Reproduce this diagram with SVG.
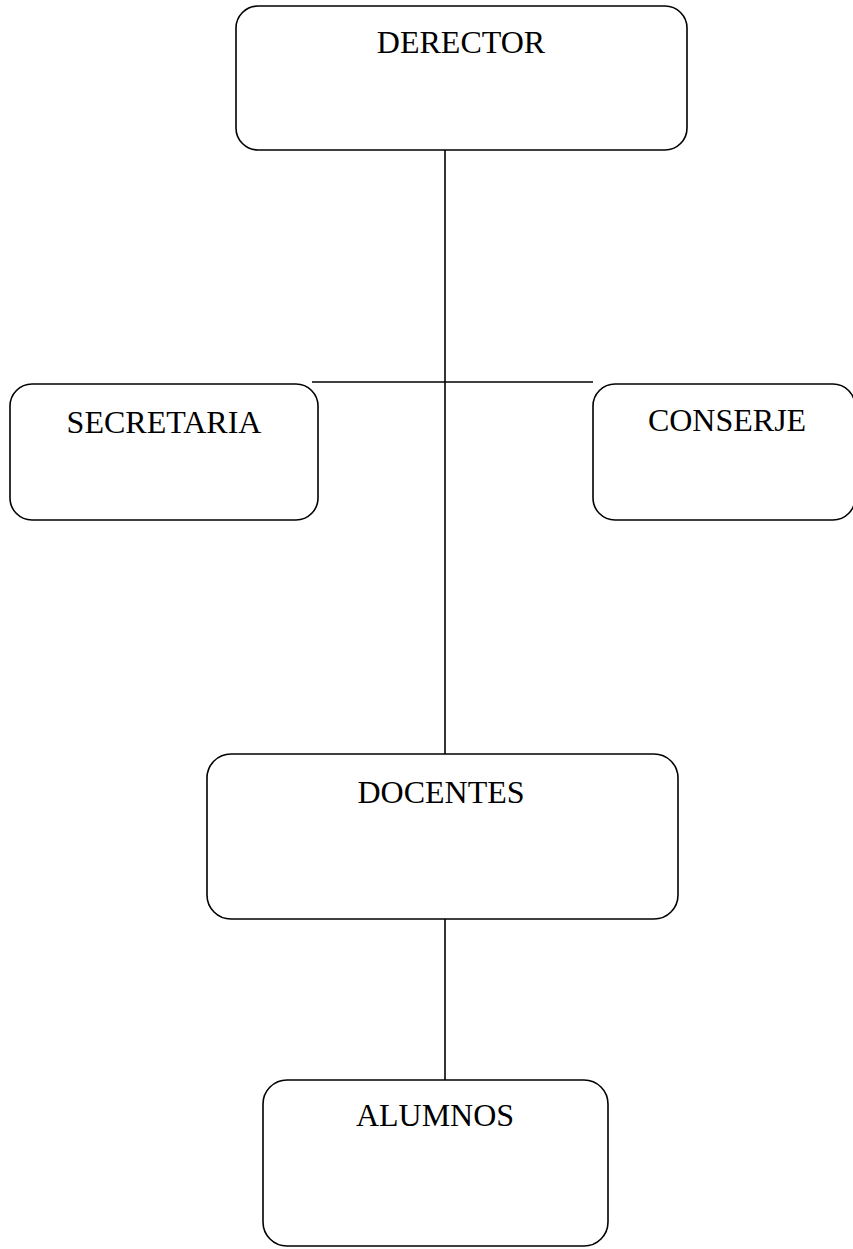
<svg xmlns="http://www.w3.org/2000/svg" width="853" height="1249" viewBox="0 0 853 1249">
<style>
.box{fill:#fff;stroke:#000;stroke-width:1.6}
.lbl{font-family:"Liberation Serif","Times New Roman",serif;font-size:32px;fill:#000;text-anchor:middle}
.con{stroke:#000;stroke-width:1.6;fill:none}
</style>
<rect width="853" height="1249" fill="#fff"/>
<g id="connectors">
<line class="con" x1="445" y1="150" x2="445" y2="754"/>
<line class="con" x1="312" y1="382" x2="593" y2="382"/>
<line class="con" x1="445" y1="919" x2="445" y2="1080"/>
</g>
<g id="director">
<rect class="box" x="236" y="6" width="451" height="144" rx="22"/>
<text class="lbl" x="461" y="53">DERECTOR</text>
</g>
<g id="secretaria">
<rect class="box" x="10" y="384" width="308" height="136" rx="22"/>
<text class="lbl" x="164" y="433">SECRETARIA</text>
</g>
<g id="conserje">
<rect class="box" x="593" y="384" width="262" height="136" rx="22"/>
<text class="lbl" x="727" y="431">CONSERJE</text>
</g>
<g id="docentes">
<rect class="box" x="207" y="754" width="471" height="165" rx="24"/>
<text class="lbl" x="441" y="803">DOCENTES</text>
</g>
<g id="alumnos">
<rect class="box" x="263" y="1080" width="345" height="166" rx="24"/>
<text class="lbl" x="435" y="1126">ALUMNOS</text>
</g>
</svg>
